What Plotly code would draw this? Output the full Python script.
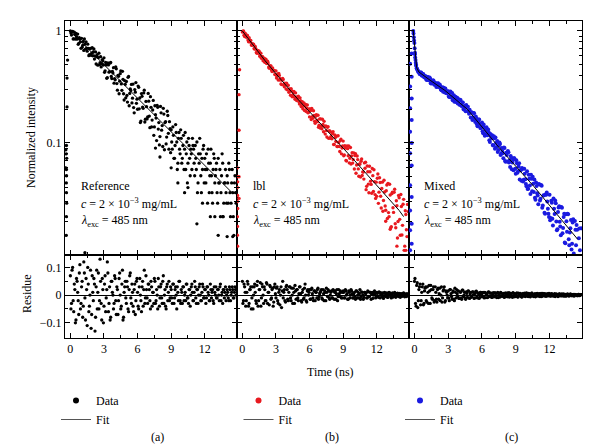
import plotly.graph_objects as go

# ---------------- data ----------------
# channel times (ns), two interleaved channel sets
t_grid = [0.0,0.1,0.2,0.3,0.4,0.5,0.6,0.7,0.8,0.9,
          1.0,1.1,1.2,1.3,1.4,1.5,1.6,1.7,1.8,1.9,
          2.0,2.1,2.2,2.3,2.4,2.5,2.6,2.7,2.8,2.9,
          3.0,3.1,3.2,3.3,3.4,3.5,3.6,3.7,3.8,3.9,
          4.0,4.1,4.2,4.3,4.4,4.5,4.6,4.7,4.8,4.9,
          5.0,5.1,5.2,5.3,5.4,5.5,5.6,5.7,5.8,5.9,
          6.0,6.1,6.2,6.3,6.4,6.5,6.6,6.7,6.8,6.9,
          7.0,7.1,7.2,7.3,7.4,7.5,7.6,7.7,7.8,7.9,
          8.0,8.1,8.2,8.3,8.4,8.5,8.6,8.7,8.8,8.9,
          9.0,9.1,9.2,9.3,9.4,9.5,9.6,9.7,9.8,9.9,
          10.0,10.1,10.2,10.3,10.4,10.5,10.6,10.7,10.8,10.9,
          11.0,11.1,11.2,11.3,11.4,11.5,11.6,11.7,11.8,11.9,
          12.0,12.1,12.2,12.3,12.4,12.5,12.6,12.7,12.8,12.9,
          13.0,13.1,13.2,13.3,13.4,13.5,13.6,13.7,13.8,13.9,
          14.0,14.1,14.2,14.3,14.4,14.5,14.6,14.7,14.8]
t_grid2 = [0.05,0.15,0.25,0.35,0.45,0.55,0.65,0.75,0.85,0.95,
           1.05,1.15,1.25,1.35,1.45,1.55,1.65,1.75,1.85,1.95,
           2.05,2.15,2.25,2.35,2.45,2.55,2.65,2.75,2.85,2.95,
           3.05,3.15,3.25,3.35,3.45,3.55,3.65,3.75,3.85,3.95,
           4.05,4.15,4.25,4.35,4.45,4.55,4.65,4.75,4.85,4.95,
           5.05,5.15,5.25,5.35,5.45,5.55,5.65,5.75,5.85,5.95,
           6.05,6.15,6.25,6.35,6.45,6.55,6.65,6.75,6.85,6.95,
           7.05,7.15,7.25,7.35,7.45,7.55,7.65,7.75,7.85,7.95,
           8.05,8.15,8.25,8.35,8.45,8.55,8.65,8.75,8.85,8.95,
           9.05,9.15,9.25,9.35,9.45,9.55,9.65,9.75,9.85,9.95,
           10.05,10.15,10.25,10.35,10.45,10.55,10.65,10.75,10.85,10.95,
           11.05,11.15,11.25,11.35,11.45,11.55,11.65,11.75,11.85,11.95,
           12.05,12.15,12.25,12.35,12.45,12.55,12.65,12.75,12.85,12.95,
           13.05,13.15,13.25,13.35,13.45,13.55,13.65,13.75,13.85,13.95,
           14.05,14.15,14.25,14.35,14.45,14.55,14.65,14.75]

# (a) Reference
i_a = [1.0,0.92,0.99,0.85,0.93,0.95,0.845,0.76,0.87,0.80,
       0.86,0.745,0.67,0.763,0.80,0.66,0.70,0.615,0.70,0.633,
       0.60,0.69,0.597,0.507,0.615,0.579,0.50,0.59,0.51,0.54,
       0.576,0.441,0.498,0.384,0.498,0.434,0.524,0.376,0.421,0.342,
       0.366,0.459,0.296,0.394,0.356,0.44,0.295,0.37,0.242,0.334,
       0.354,0.232,0.393,0.277,0.294,0.228,0.336,0.186,0.284,0.226,
       0.20,0.314,0.252,0.157,0.261,0.204,0.296,0.163,0.211,0.171,
       0.236,0.137,0.208,0.16,0.24,0.139,0.179,0.105,0.208,0.152,
       0.114,0.186,0.143,0.204,0.087,0.155,0.113,0.176,0.088,0.134,
       0.131,0.088,0.117,0.073,0.146,0.102,0.066,0.124,0.080,0.110,
       0.073,0.117,0.088,0.058,0.102,0.066,0.095,0.051,0.080,0.110,
       0.088,0.051,0.073,0.102,0.044,0.066,0.080,0.036,0.058,0.095,
       0.073,0.044,0.058,0.088,0.036,0.066,0.051,0.029,0.080,0.044,
       0.058,0.036,0.073,0.044,0.022,0.051,0.066,0.029,0.044,0.036,
       0.051,0.029,0.058,0.022,0.044,0.036,0.015,0.051,0.029]
i_a2 = [0.96,0.985,0.85,0.978,0.848,0.89,0.938,0.775,0.847,0.70,
        0.714,0.805,0.848,0.689,0.702,0.763,0.602,0.695,0.607,0.708,
        0.649,0.561,0.65,0.588,0.495,0.634,0.521,0.478,0.555,0.497,
        0.427,0.523,0.378,0.519,0.429,0.517,0.393,0.435,0.47,0.375,
        0.477,0.339,0.402,0.275,0.416,0.337,0.436,0.275,0.36,0.253,
        0.266,0.386,0.215,0.304,0.333,0.251,0.207,0.30,0.346,0.246,
        0.322,0.202,0.152,0.276,0.209,0.28,0.154,0.235,0.164,0.277,
        0.174,0.259,0.139,0.197,0.117,0.215,0.167,0.217,0.133,0.096,
        0.212,0.13,0.093,0.181,0.152,0.098,0.192,0.122,0.155,0.082,
        0.102,0.139,0.073,0.095,0.124,0.058,0.110,0.088,0.131,0.066,
        0.095,0.058,0.124,0.080,0.044,0.110,0.073,0.088,0.058,0.095,
        0.066,0.095,0.058,0.036,0.080,0.110,0.051,0.073,0.088,0.044,
        0.058,0.080,0.029,0.066,0.051,0.088,0.036,0.058,0.073,0.051,
        0.066,0.029,0.044,0.058,0.036,0.080,0.022,0.044,0.058,0.029,
        0.044,0.066,0.036,0.029,0.058,0.022,0.044,0.036]
t_a_extra = [-0.35,-0.36,-0.33,-0.35,-0.34,-0.36,-0.35,-0.33,-0.35,-0.36,
             -0.4,-0.4,-0.3,-0.3,-0.25,1.3,11.3,14.0,13.2,12.5,
             8.0,7.6,9.0,10.5,14.5,13.6,11.8,12.9,9.6,10.2]
i_a_extra = [0.095,0.080,0.073,0.058,0.051,0.044,0.036,0.029,0.022,0.015,
             0.087,0.060,0.21,0.38,0.55,0.0105,0.019,0.0146,0.015,0.022,
             0.075,0.09,0.06,0.04,0.0146,0.022,0.029,0.022,0.044,0.036]
r_a = [0.07,-0.03,0.10,-0.06,0.02,-0.09,0.05,-0.02,0.08,-0.05,
       0.03,-0.08,0.12,-0.01,0.06,-0.11,0.04,-0.04,0.09,-0.07,
       0.01,0.06,-0.13,0.03,-0.05,0.08,-0.02,0.05,-0.09,0.02,
       -0.04,0.07,-0.01,0.12,-0.06,0.03,-0.08,0.05,0.00,-0.03,
       0.06,-0.07,0.02,-0.02,0.08,-0.05,0.04,-0.09,0.01,0.05,
       -0.03,0.03,-0.06,0.07,-0.01,0.04,-0.04,0.02,-0.07,0.05,
       0.01,-0.05,0.06,-0.02,0.03,-0.04,0.09,-0.01,0.02,-0.03,
       0.04,-0.02,0.05,-0.04,0.01,0.06,-0.03,0.02,-0.05,0.03,
       -0.01,0.04,-0.03,0.07,0.00,-0.04,0.03,-0.02,0.05,-0.01,
       0.02,-0.03,0.04,-0.01,0.03,-0.05,0.01,0.05,-0.02,0.02,
       -0.03,0.03,0.00,-0.02,0.04,-0.01,0.02,-0.04,0.03,0.01,
       -0.02,0.05,-0.01,0.02,-0.03,0.03,0.00,-0.02,0.04,-0.01,
       0.02,-0.03,0.03,0.01,-0.02,0.04,-0.01,0.02,-0.03,0.01,
       0.03,-0.01,0.02,-0.02,0.04,0.00,-0.03,0.02,0.01,-0.02,
       0.02,-0.01,0.03,-0.02,0.01,0.02,-0.01,0.03,0.00]
r_a2 = [-0.05,0.09,-0.02,0.04,-0.10,0.06,0.01,-0.07,0.11,-0.03,
        0.05,-0.04,0.08,-0.09,0.02,0.10,-0.06,0.00,-0.12,0.07,
        -0.02,0.04,-0.08,0.09,0.01,-0.05,0.13,-0.03,0.06,-0.10,
        0.04,-0.06,0.02,0.08,-0.03,-0.09,0.05,0.01,-0.05,0.07,
        -0.02,0.03,-0.07,0.06,0.00,-0.04,0.09,-0.08,0.03,-0.01,
        0.05,-0.05,0.02,0.08,-0.03,0.01,-0.06,0.04,-0.02,0.06,
        -0.04,0.03,0.00,-0.06,0.05,0.02,-0.03,0.07,-0.01,0.04,
        0.02,-0.05,0.03,0.01,-0.03,0.05,-0.02,0.00,0.06,-0.04,
        0.03,-0.01,0.05,-0.03,0.02,-0.05,0.04,0.01,-0.02,0.03,
        -0.01,0.04,-0.03,0.02,0.00,0.03,-0.02,0.05,-0.03,0.01,
        0.03,-0.02,0.01,0.04,-0.01,-0.03,0.02,0.00,0.04,-0.02,
        0.01,0.03,-0.03,0.02,0.00,0.04,-0.02,0.01,0.03,-0.01,
        0.02,-0.01,0.03,0.00,-0.02,0.02,0.01,-0.02,0.03,0.00,
        -0.01,0.02,0.00,0.03,-0.02,0.01,0.02,-0.01,0.03,0.00,
        0.01,-0.02,0.02,0.00,0.03,-0.01,0.01,0.02]
fit_t_a = [0.0, 4.0, 8.0, 12.0, 14.5]
fit_i_a = [1.0, 0.398, 0.158, 0.063, 0.0355]

# (b) lbl
i_b = [0.98,0.998,0.892,0.92,0.917,0.829,0.87,0.796,0.748,0.77,
       0.761,0.688,0.694,0.633,0.665,0.659,0.599,0.57,0.59,0.556,
       0.525,0.559,0.512,0.518,0.465,0.486,0.449,0.468,0.442,0.409,
       0.44,0.395,0.365,0.401,0.375,0.332,0.376,0.328,0.342,0.304,
       0.299,0.327,0.304,0.267,0.293,0.267,0.289,0.246,0.258,0.244,
       0.262,0.223,0.238,0.224,0.202,0.228,0.214,0.191,0.218,0.187,
       0.171,0.195,0.203,0.166,0.176,0.15,0.179,0.155,0.138,0.164,
       0.164,0.134,0.146,0.156,0.12,0.129,0.138,0.11,0.128,0.114,
       0.109,0.126,0.097,0.112,0.115,0.093,0.101,0.084,0.108,0.09,
       0.104,0.078,0.09,0.069,0.089,0.094,0.073,0.065,0.082,0.071,
       0.0585,0.0802,0.0636,0.0711,0.0504,0.065,0.0688,0.0512,0.055,0.0664,
       0.0674,0.041,0.0553,0.0359,0.0554,0.0427,0.0591,0.0369,0.0452,0.032,
       0.0334,0.0528,0.0364,0.0444,0.0263,0.0447,0.0307,0.0365,0.0251,0.0422,
       0.0435,0.022,0.0343,0.0179,0.0363,0.024,0.0386,0.0175,0.0275,0.0199,
       0.0324,0.015,0.0271,0.0184,0.0314,0.012,0.023,0.0146,0.0244]
i_b2 = [0.994,0.916,0.953,0.878,0.912,0.80,0.832,0.823,0.744,0.751,
        0.699,0.726,0.643,0.669,0.631,0.594,0.632,0.592,0.542,0.571,
        0.556,0.514,0.536,0.476,0.488,0.488,0.434,0.44,0.445,0.408,
        0.38,0.414,0.418,0.365,0.337,0.363,0.368,0.317,0.331,0.341,
        0.327,0.284,0.291,0.306,0.259,0.283,0.257,0.28,0.239,0.251,
        0.233,0.253,0.212,0.234,0.214,0.195,0.221,0.204,0.186,0.201,
        0.201,0.162,0.172,0.194,0.156,0.173,0.16,0.177,0.144,0.136,
        0.141,0.163,0.126,0.14,0.142,0.113,0.14,0.128,0.11,0.125,
        0.121,0.097,0.118,0.103,0.093,0.116,0.093,0.105,0.08,0.094,
        0.077,0.0944,0.0699,0.0939,0.077,0.0664,0.0911,0.0768,0.0661,0.0816,
        0.0772,0.0537,0.0765,0.0587,0.0647,0.0497,0.072,0.0552,0.0476,0.0595,
        0.0383,0.0623,0.0429,0.062,0.0456,0.0356,0.0511,0.0577,0.0346,0.0447,
        0.0485,0.0289,0.0489,0.0335,0.0393,0.0246,0.0465,0.0274,0.0375,0.0212,
        0.0239,0.0428,0.0175,0.0353,0.0264,0.0363,0.019,0.0305,0.0142,0.034,
        0.0208,0.0347,0.0151,0.0284,0.011,0.0248,0.0168,0.0283]
t_b_extra = [-0.25,-0.3,-0.3,-0.45,-0.45,-0.42,-0.45,-0.43,-0.45,-0.42,
             -0.45,-0.44,-0.45,-0.43,-0.3,-0.3,13.8,14.6,13.2,12.8]
i_b_extra = [0.45,0.27,0.13,0.06,0.05,0.045,0.04,0.034,0.03,0.026,
             0.022,0.018,0.015,0.012,0.05,0.032,0.012,0.011,0.017,0.02]
r_b = [0.05,-0.02,0.03,-0.04,0.01,0.04,-0.03,0.02,-0.05,0.03,
       0.00,0.04,-0.02,0.035,-0.04,0.02,0.045,-0.01,0.03,-0.03,
       0.02,-0.02,0.04,0.01,-0.035,0.03,-0.01,0.025,-0.025,0.04,
       -0.01,0.03,-0.03,0.02,0.00,-0.045,0.05,0.01,-0.02,0.03,
       0.02,-0.02,0.03,-0.01,0.025,-0.03,0.01,0.035,-0.015,0.02,
       -0.02,0.03,0.005,-0.025,0.02,-0.01,0.04,-0.02,0.015,0.00,
       0.02,-0.015,0.025,-0.01,0.015,-0.02,0.01,0.02,-0.015,0.005,
       0.015,-0.01,0.02,-0.02,0.01,0.025,-0.005,0.015,-0.015,0.01,
       -0.01,0.02,-0.015,0.015,0.005,-0.02,0.02,-0.005,0.01,-0.01,
       0.015,-0.01,0.02,0.00,-0.015,0.015,-0.01,0.02,0.005,-0.01,
       0.01,-0.015,0.015,0.00,-0.01,0.02,-0.005,0.01,-0.015,0.01,
       0.005,-0.01,0.015,-0.005,0.01,-0.015,0.01,0.00,0.015,-0.01,
       0.01,-0.005,0.012,-0.01,0.008,0.00,-0.012,0.01,-0.005,0.008,
       -0.008,0.01,0.00,-0.01,0.008,-0.005,0.01,-0.008,0.005,0.00,
       0.006,-0.008,0.004,-0.004,0.008,-0.006,0.002,0.005,-0.003]
r_b2 = [-0.03,0.04,0.01,-0.02,0.05,-0.04,0.02,0.03,-0.01,-0.05,
        0.03,0.01,-0.03,0.05,-0.02,0.02,-0.04,0.04,0.00,0.03,
        -0.02,0.045,-0.03,0.01,0.035,-0.015,0.02,-0.04,0.03,0.005,
        0.025,-0.02,0.01,-0.035,0.03,0.015,-0.01,0.02,-0.025,0.035,
        -0.015,0.01,0.03,-0.02,0.00,0.025,-0.03,0.015,0.02,-0.01,
        0.005,0.03,-0.02,0.01,-0.015,0.025,0.00,-0.025,0.02,0.01,
        -0.015,0.02,0.005,-0.02,0.015,0.01,-0.01,0.025,-0.005,0.01,
        0.02,-0.015,0.005,0.015,-0.02,0.01,0.02,-0.01,0.00,0.015,
        -0.01,0.015,0.01,-0.015,0.02,-0.005,0.005,0.015,-0.01,0.01,
        0.01,-0.01,0.015,0.005,-0.015,0.01,0.00,0.015,-0.01,0.005,
        -0.005,0.015,-0.01,0.01,0.005,-0.015,0.012,0.00,-0.008,0.01,
        0.008,-0.01,0.012,-0.005,0.01,0.003,-0.012,0.008,0.005,-0.006,
        0.006,-0.008,0.01,0.002,-0.006,0.008,-0.004,0.006,0.003,-0.008,
        0.005,0.008,-0.005,0.002,-0.007,0.006,0.004,-0.003,0.007,-0.005,
        0.003,0.005,-0.004,0.006,-0.002,0.004,-0.005,0.003]
fit_t_b = [0.0,1.0,2.0,3.0,4.0,5.0,6.0,7.0,8.0,9.0,10.0,11.0,12.0,13.0,14.0,14.4]
fit_i_b = [1.0,0.731,0.547,0.415,0.315,0.243,0.190,0.149,0.116,0.090,0.070,0.054,0.042,0.032,0.025,0.022]

# (c) Mixed
i_c = [0.78,0.55,0.465,0.44,0.43,0.41,0.425,0.398,0.41,0.384,
       0.394,0.365,0.389,0.365,0.374,0.339,0.356,0.36,0.331,0.335,
       0.32,0.341,0.317,0.321,0.295,0.314,0.312,0.283,0.293,0.278,
       0.29,0.258,0.288,0.259,0.241,0.267,0.251,0.232,0.254,0.228,
       0.219,0.242,0.214,0.23,0.199,0.212,0.218,0.192,0.192,0.198,
       0.169,0.187,0.17,0.184,0.154,0.165,0.141,0.162,0.148,0.136,
       0.152,0.122,0.137,0.12,0.138,0.117,0.125,0.102,0.114,0.117,
       0.095,0.11,0.112,0.092,0.083,0.095,0.098,0.08,0.085,0.073,
       0.09,0.068,0.078,0.085,0.067,0.061,0.074,0.067,0.057,0.072,
       0.053,0.066,0.056,0.066,0.057,0.046,0.059,0.047,0.053,0.043,
       0.056,0.039,0.048,0.035,0.048,0.05,0.0366,0.0325,0.0443,0.0355,
       0.0284,0.0425,0.0317,0.0415,0.0277,0.0342,0.0234,0.0345,0.0301,0.0233,
       0.0345,0.0214,0.0292,0.0183,0.0259,0.0307,0.0199,0.017,0.0265,0.0198,
       0.015,0.0264,0.0174,0.0234,0.0127,0.02,0.0234,0.0138,0.0159,0.0205,
       0.0126,0.0208,0.0096,0.0168,0.0185,0.0097,0.0141,0.011,0.0173]
i_c2 = [0.64,0.50,0.455,0.43,0.415,0.425,0.40,0.412,0.388,0.395,
        0.368,0.388,0.364,0.384,0.342,0.358,0.363,0.333,0.345,0.316,
        0.34,0.316,0.333,0.3,0.31,0.287,0.306,0.307,0.278,0.288,
        0.26,0.279,0.255,0.279,0.261,0.233,0.259,0.237,0.225,0.246,
        0.242,0.216,0.23,0.201,0.214,0.192,0.21,0.211,0.182,0.188,
        0.188,0.16,0.185,0.162,0.172,0.147,0.156,0.162,0.136,0.14,
        0.127,0.146,0.116,0.13,0.118,0.132,0.106,0.12,0.111,0.096,
        0.115,0.089,0.1,0.104,0.0864,0.101,0.0782,0.09,0.081,0.091,
        0.0689,0.0818,0.0684,0.0827,0.0699,0.0765,0.0582,0.0706,0.0733,0.0588,
        0.0702,0.0541,0.0618,0.0473,0.0571,0.0599,0.0453,0.0588,0.0474,0.041,
        0.0389,0.0521,0.0418,0.052,0.0371,0.0433,0.0473,0.0312,0.0413,0.034,
        0.0431,0.0307,0.0422,0.0264,0.034,0.0238,0.0347,0.0361,0.0259,0.0218,
        0.0204,0.0305,0.0211,0.032,0.0232,0.0289,0.0166,0.0242,0.0273,0.018,
        0.0268,0.0156,0.0218,0.0129,0.0231,0.0161,0.0231,0.0122,0.0173,0.0112,
        0.0195,0.0103,0.0201,0.0122,0.0168,0.0087,0.0172,0.0096]
t_c_extra = [-0.1,-0.08,-0.05,-0.03,0.02,0.05,0.07,0.12,0.15,0.25,
             -0.24,-0.38,-0.24,-0.38,-0.24,-0.38,-0.24,-0.38,-0.24,-0.38,
             -0.24,-0.38,-0.24,-0.38,-0.24,-0.38,-0.24,-0.38]
i_c_extra = [1.0,0.95,0.88,0.82,0.70,0.62,0.58,0.52,0.49,0.455,
             0.63,0.51,0.39,0.32,0.25,0.204,0.16,0.126,0.1,0.081,
             0.063,0.042,0.033,0.025,0.019,0.0166,0.0126,0.011]
r_c = [0.05,-0.03,0.035,-0.045,0.02,0.04,-0.02,0.03,-0.035,0.015,
       0.03,-0.025,0.01,0.035,-0.03,0.02,-0.015,0.03,-0.02,0.01,
       -0.025,0.025,0.005,-0.02,0.03,-0.01,0.02,-0.025,0.015,0.00,
       0.015,-0.02,0.02,-0.005,0.01,-0.015,0.025,-0.01,0.005,0.015,
       -0.012,0.01,-0.015,0.018,0.00,-0.01,0.012,-0.008,0.015,-0.012,
       0.01,-0.005,0.012,-0.012,0.006,0.014,-0.01,0.004,-0.008,0.01,
       -0.006,0.01,-0.01,0.008,0.002,-0.009,0.012,-0.004,0.007,-0.008,
       0.009,-0.005,0.006,-0.009,0.01,0.00,-0.007,0.008,-0.004,0.006,
       -0.008,0.007,0.002,-0.006,0.009,-0.003,0.005,-0.008,0.007,0.001,
       -0.005,0.008,-0.007,0.004,0.006,-0.006,0.003,-0.004,0.007,-0.002,
       0.006,-0.005,0.004,-0.006,0.007,0.00,-0.005,0.005,-0.003,0.006,
       -0.004,0.005,0.002,-0.005,0.006,-0.003,0.004,-0.004,0.005,0.00,
       0.004,-0.004,0.005,-0.002,0.003,-0.005,0.004,0.001,-0.003,0.004,
       -0.003,0.004,0.001,-0.004,0.003,-0.002,0.004,-0.003,0.002,0.003,
       -0.002,0.003,-0.003,0.002,0.001,-0.002,0.003,-0.001,0.002]
r_c2 = [0.06,-0.04,0.045,-0.02,0.03,-0.035,0.01,0.04,-0.03,0.025,
        -0.02,0.03,-0.03,0.015,0.035,-0.01,0.02,-0.025,0.03,-0.015,
        0.02,-0.015,0.025,0.00,-0.025,0.015,0.03,-0.02,0.01,-0.01,
        -0.01,0.02,0.005,-0.015,0.015,-0.02,0.01,0.02,-0.005,-0.012,
        0.012,-0.01,0.018,-0.005,0.01,-0.015,0.006,0.014,-0.01,0.004,
        -0.008,0.012,0.002,-0.01,0.013,-0.006,0.008,-0.012,0.01,0.003,
        0.008,-0.006,0.01,-0.009,0.004,0.011,-0.005,0.007,-0.008,0.002,
        -0.006,0.009,-0.003,0.007,-0.009,0.005,0.01,-0.004,0.003,-0.007,
        0.007,-0.005,0.008,0.001,-0.007,0.006,-0.003,0.009,-0.006,0.004,
        0.005,-0.006,0.007,-0.003,0.004,-0.007,0.006,0.002,-0.005,0.008,
        -0.004,0.006,-0.005,0.003,0.007,-0.004,0.002,-0.006,0.005,0.003,
        0.004,-0.005,0.006,-0.002,0.003,0.005,-0.004,0.002,-0.003,0.006,
        -0.003,0.004,0.002,-0.004,0.005,-0.002,0.003,-0.005,0.004,0.001,
        0.003,-0.003,0.004,0.000,-0.004,0.003,0.002,-0.003,0.004,-0.002,
        0.002,-0.003,0.003,0.001,-0.002,0.003,-0.002,0.002]
fit_t_c = [-0.1,0.0,0.1,0.2,0.4,0.8,1.4,2.7,3.8,4.7,7.6,10.6,14.5]
fit_i_c = [1.0,0.76,0.55,0.47,0.43,0.40,0.363,0.295,0.24,0.20,0.089,0.041,0.0138]

panel_names = ["Reference", "lbl", "Mixed"]
panel_labels = ["(a)", "(b)", "(c)"]
colors = ["#000000", "#e8191f", "#1a1ae0"]
x_ticks = [0, 3, 6, 9, 12]
x_minor = [1.5, 4.5, 7.5, 10.5, 13.5]
log_ticks = [0.1, 1]
log_ticktext = ["0.1", "1"]
log_minor = [0.02,0.03,0.04,0.05,0.06,0.07,0.08,0.09,0.2,0.3,0.4,0.5,0.6,0.7,0.8,0.9]
res_ticks = [-0.1, 0, 0.1]
res_ticktext = ["\u22120.1", "0", "0.1"]
res_minor = [-0.05, 0.05]

# ---------------- figure ----------------
FONT = "Liberation Serif, Times New Roman, serif"
W, H = 600, 446
L, R, T, B = 65, 18, 21, 108
pw = W - L - R
ph = H - T - B
split = 83 / ph


def px_x(p):
    return (p - L) / pw


def px_y(p):
    return (H - B - p) / ph


fig = go.Figure()

panels = [
    (i_a, i_a2, t_a_extra, i_a_extra, r_a, r_a2, fit_t_a, fit_i_a),
    (i_b, i_b2, t_b_extra, i_b_extra, r_b, r_b2, fit_t_b, fit_i_b),
    (i_c, i_c2, t_c_extra, i_c_extra, r_c, r_c2, fit_t_c, fit_i_c),
]
legend_ids = ["legend", "legend2", "legend3"]
marker_sizes = [3.3, 3.4, 4.0]

for k, (ii, ii2, tx, ix, rr, rr2, ft, fi) in enumerate(panels):
    top_x = "x" if k == 0 else f"x{k+1}"
    top_y = "y" if k == 0 else f"y{k+1}"
    res_x = f"x{k+4}"
    res_y = f"y{k+4}"
    col = colors[k]
    fig.add_trace(go.Scatter(
        x=t_grid + t_grid2 + tx, y=ii + ii2 + ix, mode="markers",
        marker=dict(color=col, size=marker_sizes[k]), xaxis=top_x, yaxis=top_y,
        showlegend=False, hoverinfo="skip"))
    fig.add_trace(go.Scatter(
        x=ft, y=fi, mode="lines", line=dict(color="black", width=1),
        xaxis=top_x, yaxis=top_y, showlegend=False, hoverinfo="skip"))
    fig.add_trace(go.Scatter(
        x=t_grid + t_grid2, y=rr + rr2, mode="markers",
        marker=dict(color="black", size=3.3), xaxis=res_x, yaxis=res_y,
        showlegend=False, hoverinfo="skip"))
    # legend entries
    fig.add_trace(go.Scatter(
        x=[None], y=[None], mode="markers", name="Data",
        marker=dict(color=col, size=6), xaxis=top_x, yaxis=top_y,
        legend=legend_ids[k]))
    fig.add_trace(go.Scatter(
        x=[None], y=[None], mode="lines", name="Fit",
        line=dict(color="#555555", width=1), xaxis=top_x, yaxis=top_y,
        legend=legend_ids[k]))

common = dict(showline=True, linecolor="black", linewidth=1, mirror="allticks",
              ticks="inside", tickcolor="black", ticklen=5, tickwidth=1,
              showgrid=False, zeroline=False,
              tickfont=dict(family=FONT, size=12, color="black"))

layout = dict(
    width=W, height=H,
    margin=dict(l=L, r=R, t=T, b=B, autoexpand=False),
    paper_bgcolor="white", plot_bgcolor="white",
    font=dict(family=FONT, size=12, color="black"),
)

xd = [[0, 172 / pw], [172 / pw, 344 / pw], [344 / pw, 1]]
for k in range(3):
    kx = "xaxis" if k == 0 else f"xaxis{k+1}"
    ky = "yaxis" if k == 0 else f"yaxis{k+1}"
    ya = "y" if k == 0 else f"y{k+1}"
    xa = "x" if k == 0 else f"x{k+1}"
    layout[kx] = dict(common, domain=xd[k], anchor=ya, range=[-0.48, 14.88],
                      tickmode="array", tickvals=x_ticks, showticklabels=False,
                      minor=dict(tickmode="array", tickvals=x_minor, ticks="inside",
                                 ticklen=3, tickcolor="black"))
    layout[ky] = dict(common, domain=[split, 1], anchor=xa, type="log",
                      range=[-2, 0.089], tickmode="array", tickvals=log_ticks,
                      ticktext=log_ticktext, showticklabels=(k == 0),
                      minor=dict(tickmode="array", tickvals=log_minor, ticks="inside",
                                 ticklen=3, tickcolor="black"))
    layout[f"xaxis{k+4}"] = dict(common, domain=xd[k], anchor=f"y{k+4}",
                                 range=[-0.48, 14.88], tickmode="array",
                                 tickvals=x_ticks, showticklabels=True,
                                 minor=dict(tickmode="array", tickvals=x_minor,
                                            ticks="inside", ticklen=3,
                                            tickcolor="black"))
    layout[f"yaxis{k+4}"] = dict(common, domain=[0, split], anchor=f"x{k+4}",
                                 range=[-0.155, 0.145], tickmode="array",
                                 tickvals=res_ticks, ticktext=res_ticktext,
                                 showticklabels=(k == 0),
                                 zeroline=True, zerolinecolor="black",
                                 zerolinewidth=1,
                                 minor=dict(tickmode="array", tickvals=res_minor,
                                            ticks="inside", ticklen=3,
                                            tickcolor="black"))

legend_x_px = [56, 238.5, 400]
for k in range(3):
    lid = legend_ids[k]
    layout[lid] = dict(x=px_x(legend_x_px[k]), y=px_y(386), xanchor="left",
                       yanchor="top", bgcolor="rgba(0,0,0,0)",
                       font=dict(family=FONT, size=12, color="black"),
                       tracegroupgap=0, itemwidth=30)

annotations = []
text_x_px = [79, 250.5, 421.5]
for k in range(3):
    lines = [panel_names[k],
             "<i>c</i> = 2 \u00d7 10<sup>\u22123</sup> mg/mL",
             "<i>\u03bb</i><sub>exc</sub> = 485 nm"]
    for line, ypx in zip(lines, [186, 203, 221]):
        annotations.append(dict(text=line, x=px_x(text_x_px[k]), y=px_y(ypx),
                                xref="paper", yref="paper", xanchor="left",
                                yanchor="middle", showarrow=False,
                                font=dict(family=FONT, size=12, color="black")))
label_x_px = [157, 331.5, 511.5]
for k in range(3):
    annotations.append(dict(text=panel_labels[k], x=px_x(label_x_px[k]), y=px_y(437),
                            xref="paper", yref="paper", xanchor="center",
                            yanchor="middle", showarrow=False,
                            font=dict(family=FONT, size=12, color="black")))
annotations.append(dict(text="Time (ns)", x=px_x(330), y=px_y(372), xref="paper",
                        yref="paper", xanchor="center", yanchor="middle",
                        showarrow=False, font=dict(family=FONT, size=12, color="black")))
annotations.append(dict(text="Normalized intensity", x=px_x(31), y=px_y(138),
                        xref="paper", yref="paper", xanchor="center",
                        yanchor="middle", textangle=-90, showarrow=False,
                        font=dict(family=FONT, size=12, color="black")))
annotations.append(dict(text="Residue", x=px_x(27), y=px_y(294),
                        xref="paper", yref="paper", xanchor="center",
                        yanchor="middle", textangle=-90, showarrow=False,
                        font=dict(family=FONT, size=12, color="black")))
layout["annotations"] = annotations

fig.update_layout(**layout)
fig.write_html("out.html", config={"displayModeBar": False},
               post_script="document.body.style.margin='0px';document.body.style.padding='0px';")
